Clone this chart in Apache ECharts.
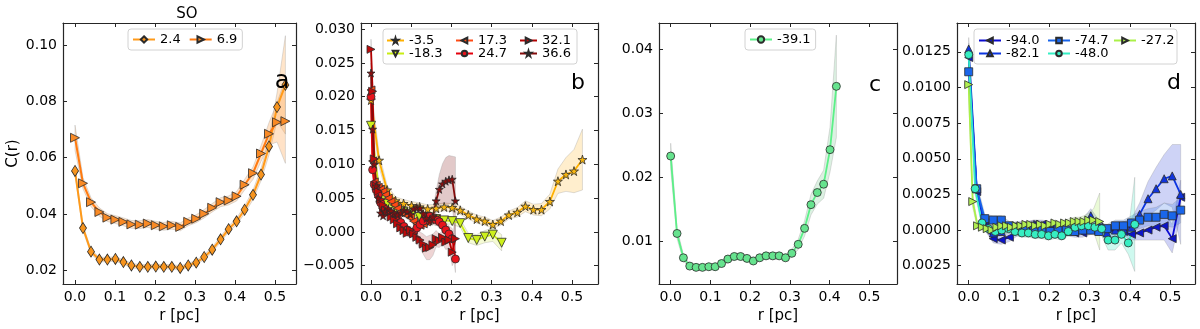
<!DOCTYPE html>
<html>
<head>
<meta charset="utf-8">
<script src="https://cdn.jsdelivr.net/npm/echarts@6/dist/echarts.min.js"></script>
<style>
  html, body { margin: 0; padding: 0; background: #fff; }
  #chart { width: 1200px; height: 329px; }
</style>
</head>
<body>
<div id="chart"></div>
<script>
/* ── ticks ── */
const X_TICKS = [0, 0.1, 0.2, 0.3, 0.4, 0.5];
const YT_A = [0.02, 0.04, 0.06, 0.08, 0.10];
const YT_B = [-0.005, 0, 0.005, 0.010, 0.015, 0.020, 0.025, 0.030];
const YT_C = [0.01, 0.02, 0.03, 0.04];
const YT_D = [-0.0025, 0, 0.0025, 0.0050, 0.0075, 0.0100, 0.0125];

/* ── radius grids (pc) ── */
const R_A = [0.000, 0.020, 0.040, 0.061, 0.081, 0.101, 0.121, 0.141, 0.162, 0.182, 0.202, 0.222, 0.242, 0.263,
  0.283, 0.303, 0.323, 0.343, 0.364, 0.384, 0.404, 0.424, 0.445, 0.465, 0.485, 0.505, 0.526];
const R_B183 = [0.000, 0.020, 0.040, 0.061, 0.081, 0.101, 0.121, 0.141, 0.162, 0.182, 0.202, 0.222, 0.242, 0.263,
  0.283, 0.303, 0.325];
const R_RED = [0.000, 0.004, 0.008, 0.013, 0.018, 0.024, 0.030, 0.036, 0.043, 0.050, 0.058, 0.066, 0.074, 0.082,
  0.090, 0.098, 0.106, 0.114, 0.122, 0.130, 0.138, 0.146, 0.154, 0.162, 0.170, 0.178, 0.186, 0.194, 0.202, 0.210];
const R_C = [0.000, 0.016, 0.032, 0.048, 0.064, 0.080, 0.096, 0.112, 0.128, 0.144, 0.160, 0.176, 0.192, 0.208,
  0.224, 0.240, 0.257, 0.273, 0.289, 0.305, 0.321, 0.337, 0.353, 0.369, 0.385, 0.401, 0.417];
const R_D48 = [0.000, 0.016, 0.033, 0.049, 0.066, 0.082, 0.099, 0.115, 0.132, 0.148, 0.165, 0.181, 0.198, 0.214,
  0.231, 0.247, 0.264, 0.280, 0.297, 0.313, 0.330, 0.346, 0.363, 0.379, 0.396, 0.412];
const R_D27 = [0.000, 0.010, 0.022, 0.034, 0.046, 0.058, 0.070, 0.082, 0.094, 0.106, 0.118, 0.130, 0.142, 0.154,
  0.166, 0.178, 0.190, 0.202, 0.214, 0.226, 0.238, 0.250, 0.262, 0.274, 0.286, 0.298, 0.310, 0.325];

/* ── panel a: SO ── */
const A_24 = [0.0553, 0.0350, 0.0266, 0.0238, 0.0238, 0.0240, 0.0229, 0.0217, 0.0212, 0.0212, 0.0213, 0.0212, 0.0212,
  0.0208, 0.0217, 0.0227, 0.0247, 0.0273, 0.0310, 0.0346, 0.0374, 0.0415, 0.0468, 0.0540, 0.0640, 0.0780, 0.0859];
const A_24_ERR = [0.0015, 0.0010, 0.0008, 0.0008, 0.0008, 0.0008, 0.0008, 0.0008, 0.0008, 0.0008, 0.0008, 0.0008, 0.0008,
  0.0008, 0.0008, 0.0008, 0.0009, 0.0010, 0.0010, 0.0011, 0.0012, 0.0014, 0.0017, 0.0022, 0.0030, 0.0050, 0.0175];
const A_69 = [0.0671, 0.0509, 0.0442, 0.0407, 0.0387, 0.0380, 0.0372, 0.0363, 0.0362, 0.0366, 0.0360, 0.0356, 0.0360,
  0.0354, 0.0372, 0.0383, 0.0401, 0.0422, 0.0442, 0.0448, 0.0463, 0.0504, 0.0545, 0.0615, 0.0685, 0.0726, 0.0730];
const A_69_ERR = [0.0045, 0.0020, 0.0016, 0.0015, 0.0014, 0.0014, 0.0014, 0.0014, 0.0014, 0.0014, 0.0014, 0.0014, 0.0014,
  0.0014, 0.0014, 0.0014, 0.0015, 0.0015, 0.0016, 0.0016, 0.0017, 0.0019, 0.0022, 0.0028, 0.0040, 0.0070, 0.0150];

/* ── panel b ── */
const B_35 = [0.0195, 0.0106, 0.0062, 0.0046, 0.0042, 0.0039, 0.0037, 0.0034, 0.0035, 0.0037, 0.0036, 0.0032, 0.0025,
  0.0019, 0.0016, 0.0011, 0.0016, 0.0025, 0.0029, 0.0038, 0.0033, 0.0033, 0.0045, 0.0075, 0.0085, 0.0090, 0.0107];
const B_35_ERR = [0.0020, 0.0010, 0.0007, 0.0006, 0.0006, 0.0006, 0.0006, 0.0006, 0.0006, 0.0006, 0.0006, 0.0006, 0.0006,
  0.0006, 0.0006, 0.0006, 0.0006, 0.0006, 0.0007, 0.0008, 0.0008, 0.0009, 0.0011, 0.0018, 0.0025, 0.0032, 0.0045];
const B_183 = [0.0157, 0.0062, 0.0042, 0.0035, 0.0030, 0.0026, 0.0022, 0.0022, 0.0019, 0.0017, 0.0016, 0.0013, -0.0009,
  -0.0012, -0.0007, -0.0004, -0.0016];
const B_183_ERR = [0.0015, 0.0008, 0.0006, 0.0005, 0.0005, 0.0005, 0.0005, 0.0005, 0.0005, 0.0005, 0.0005, 0.0006,
  0.0007, 0.0008, 0.0009, 0.0010, 0.0012];
const B_173 = [0.0210, 0.0105, 0.0074, 0.0069, 0.0066, 0.0063, 0.0060, 0.0055, 0.0050, 0.0045, 0.0040, 0.0035, 0.0030,
  0.0027, 0.0024, 0.0021, 0.0016, 0.0012, 0.0010, 0.0012, 0.0015, 0.0018, 0.0020, 0.0019];
const B_173_ERR = [0.0012, 0.0008, 0.0005, 0.0005, 0.0005, 0.0005, 0.0005, 0.0005, 0.0005, 0.0005, 0.0005, 0.0005,
  0.0005, 0.0005, 0.0005, 0.0005, 0.0005, 0.0005, 0.0006, 0.0006, 0.0007, 0.0008, 0.0009, 0.0010];
const B_247 = [0.0200, 0.0092, 0.0070, 0.0062, 0.0055, 0.0043, 0.0035, 0.0033, 0.0030, 0.0027, 0.0025, 0.0020, 0.0014,
  0.0008, 0.0003, -0.0001, 0.0000, 0.0006, 0.0011, 0.0016, 0.0022, 0.0023, 0.0020, 0.0018, 0.0015, 0.0010, 0.0003,
  -0.0003, -0.0010, -0.0040];
const B_247_ERR = [0.0015, 0.0008, 0.0006, 0.0005, 0.0005, 0.0005, 0.0005, 0.0005, 0.0005, 0.0005, 0.0005, 0.0005,
  0.0005, 0.0005, 0.0005, 0.0005, 0.0005, 0.0005, 0.0005, 0.0006, 0.0006, 0.0007, 0.0007, 0.0008, 0.0008, 0.0009,
  0.0010, 0.0012, 0.0015, 0.0020];
const B_321 = [0.0270, 0.0208, 0.0108, 0.0068, 0.0060, 0.0048, 0.0040, 0.0032, 0.0028, 0.0022, 0.0018, 0.0012, 0.0006,
  0.0002, -0.0002, 0.0003, -0.0003, -0.0008, -0.0012, -0.0018, -0.0024, -0.0023, -0.0019, -0.0010, -0.0013,
  -0.0008, -0.0015, -0.0012, -0.0030, -0.0010];
const B_321_ERR = [0.0015, 0.0010, 0.0006, 0.0005, 0.0005, 0.0005, 0.0005, 0.0005, 0.0005, 0.0005, 0.0005, 0.0005,
  0.0005, 0.0005, 0.0005, 0.0006, 0.0007, 0.0009, 0.0012, 0.0015, 0.0017, 0.0018, 0.0016, 0.0012, 0.0010, 0.0010,
  0.0011, 0.0012, 0.0020, 0.0030];
const B_366 = [0.0235, 0.0152, 0.0100, 0.0068, 0.0050, 0.0028, 0.0024, 0.0030, 0.0034, 0.0031, 0.0027, 0.0025, 0.0028,
  0.0032, 0.0030, 0.0026, 0.0034, 0.0036, 0.0035, 0.0027, 0.0020, 0.0016, 0.0022, 0.0046, 0.0063, 0.0071, 0.0075,
  0.0077, 0.0078, 0.0046];
const B_366_ERR = [0.0015, 0.0010, 0.0006, 0.0005, 0.0005, 0.0005, 0.0005, 0.0005, 0.0005, 0.0005, 0.0005, 0.0005,
  0.0005, 0.0005, 0.0005, 0.0005, 0.0005, 0.0005, 0.0005, 0.0005, 0.0005, 0.0006, 0.0008, 0.0015, 0.0022, 0.0030,
  0.0035, 0.0036, 0.0034, 0.0065];

/* ── panel c ── */
const C_391 = [0.0233, 0.0112, 0.0074, 0.0061, 0.0059, 0.0059, 0.0060, 0.0060, 0.0065, 0.0072, 0.0076, 0.0076, 0.0073,
  0.0069, 0.0074, 0.0077, 0.0077, 0.0077, 0.0074, 0.0081, 0.0095, 0.0120, 0.0157, 0.0176, 0.0189, 0.0243, 0.0342];
const C_391_ERR = [0.0020, 0.0008, 0.0005, 0.0004, 0.0004, 0.0004, 0.0004, 0.0004, 0.0005, 0.0005, 0.0005, 0.0005,
  0.0005, 0.0005, 0.0005, 0.0005, 0.0005, 0.0005, 0.0005, 0.0006, 0.0008, 0.0012, 0.0016, 0.0018, 0.0022, 0.0035,
  0.0080];

/* ── panel d ── */
const D_940 = [0.0121, 0.0027, 0.0003, -0.0006, -0.0007, -0.0005, -0.0001, 0.0002, 0.0004, 0.0004, 0.0003, 0.0001,
  -0.0001, -0.0002, -0.0002, 0.0000, 0.0002, 0.0001, 0.0000, -0.0001, -0.0003, -0.0002, 0.0000, 0.0002, 0.0003,
  -0.0006, 0.0023];
const D_940_ERR = [0.0008, 0.0004, 0.0003, 0.0003, 0.0003, 0.0003, 0.0003, 0.0003, 0.0003, 0.0003, 0.0003, 0.0003,
  0.0003, 0.0003, 0.0003, 0.0003, 0.0003, 0.0003, 0.0003, 0.0003, 0.0004, 0.0005, 0.0007, 0.0009, 0.0010, 0.0010,
  0.0012];
const D_821 = [0.0127, 0.0029, 0.0004, -0.0002, -0.0001, 0.0002, 0.0003, 0.0003, 0.0004, 0.0003, 0.0002, 0.0001,
  -0.0001, 0.0001, 0.0004, 0.0010, 0.0003, -0.0002, 0.0000, 0.0001, 0.0002, 0.0011, 0.0022, 0.0029, 0.0036, 0.0038,
  0.0025];
const D_821_ERR = [0.0008, 0.0004, 0.0003, 0.0003, 0.0003, 0.0003, 0.0003, 0.0003, 0.0003, 0.0003, 0.0003, 0.0003,
  0.0003, 0.0003, 0.0004, 0.0005, 0.0004, 0.0004, 0.0004, 0.0005, 0.0006, 0.0008, 0.0012, 0.0015, 0.0017, 0.0022,
  0.0035];
const D_747 = [0.0111, 0.0029, 0.0008, 0.0007, 0.0007, 0.0003, 0.0002, 0.0001, 0.0001, 0.0000, -0.0001, 0.0001,
  0.0000, -0.0001, 0.0000, 0.0000, -0.0001, 0.0001, 0.0003, 0.0003, 0.0005, 0.0007, 0.0009, 0.0009, 0.0011, 0.0010,
  0.0014];
const D_747_ERR = [0.0008, 0.0004, 0.0003, 0.0003, 0.0003, 0.0003, 0.0003, 0.0003, 0.0003, 0.0003, 0.0003, 0.0003,
  0.0003, 0.0003, 0.0003, 0.0003, 0.0003, 0.0003, 0.0004, 0.0004, 0.0005, 0.0006, 0.0006, 0.0007, 0.0008, 0.0008,
  0.0009];
const D_480 = [0.0123, 0.0029, 0.0005, 0.0001, -0.0001, 0.0000, 0.0001, -0.0001, -0.0002, -0.0002, -0.0003, -0.0003,
  -0.0004, -0.0003, -0.0004, -0.0001, 0.0002, 0.0003, 0.0003, 0.0002, 0.0001, -0.0007, -0.0007, -0.0003, -0.0009,
  0.0004];
const D_480_ERR = [0.0008, 0.0004, 0.0003, 0.0003, 0.0003, 0.0003, 0.0003, 0.0003, 0.0003, 0.0003, 0.0003, 0.0003,
  0.0003, 0.0003, 0.0003, 0.0003, 0.0003, 0.0003, 0.0003, 0.0004, 0.0005, 0.0007, 0.0007, 0.0006, 0.0008, 0.0033];
const D_272 = [0.0102, 0.0020, 0.0003, 0.0002, 0.0001, 0.0000, 0.0002, 0.0003, 0.0003, 0.0002, 0.0003, 0.0003, 0.0004,
  0.0004, 0.0003, 0.0004, 0.0003, 0.0004, 0.0005, 0.0004, 0.0005, 0.0005, 0.0006, 0.0006, 0.0006, 0.0007, 0.0007,
  0.0006];
const D_272_ERR = [0.0008, 0.0004, 0.0002, 0.0002, 0.0002, 0.0002, 0.0002, 0.0002, 0.0002, 0.0002, 0.0002, 0.0002,
  0.0002, 0.0002, 0.0002, 0.0002, 0.0002, 0.0002, 0.0002, 0.0002, 0.0002, 0.0003, 0.0003, 0.0003, 0.0004, 0.0005,
  0.0008, 0.0020];

/* ── style ── */
const FONT = "DejaVu Sans";
const SPINE = "#262626";
const EDGE = "#2b2b2b";
const STAR = "path://M50,0 L61,35 L98,35 L68,57 L79,91 L50,70 L21,91 L32,57 L2,35 L39,35 Z";

const chart = echarts.init(document.getElementById("chart"), null, { renderer: "canvas" });

const GRIDS = [
  { left: 63, top: 23, width: 233, height: 263, xMin: -0.030, xMax: 0.5525, yMin: 0.0151, yMax: 0.1079 },
  { left: 361, top: 23, width: 237, height: 263, xMin: -0.0249, xMax: 0.5647, yMin: -0.0077, yMax: 0.0309 },
  { left: 659, top: 23, width: 238, height: 263, xMin: -0.0294, xMax: 0.5696, yMin: 0.0033, yMax: 0.0441 },
  { left: 957, top: 23, width: 238, height: 263, xMin: -0.029, xMax: 0.5615, yMin: -0.00378, yMax: 0.01452 },
];

const clean = (v) => (Math.abs(v) < 1e-12 ? 0 : v);
const Y_TICKS = [YT_A, YT_B, YT_C, YT_D];
const Y_FMT = [
  (v) => clean(v).toFixed(2),
  (v) => clean(v).toFixed(3).replace("-", "\u2212"),
  (v) => clean(v).toFixed(2),
  (v) => Math.abs(clean(v)).toFixed(4), // minus sign of the lowest label is cut off in the figure
];

const xAxes = [];
const yAxes = [];
GRIDS.forEach((g, gi) => {
  const line = { show: true, onZero: false, lineStyle: { color: SPINE, width: 1.2 } };
  const tick = (vals) => ({ show: true, inside: true, length: 4, customValues: vals, lineStyle: { color: SPINE, width: 1 } });
  xAxes.push({
    type: "value", gridIndex: gi, position: "bottom", min: g.xMin, max: g.xMax,
    axisLine: line, axisTick: tick(X_TICKS), splitLine: { show: false },
    axisLabel: { customValues: X_TICKS, formatter: (v) => clean(v).toFixed(1), color: "#000", fontFamily: FONT, fontSize: 14, margin: 6 },
    name: "r [pc]", nameLocation: "middle", nameGap: 25,
    nameTextStyle: { color: "#000", fontFamily: FONT, fontSize: 15 },
  });
  xAxes.push({
    type: "value", gridIndex: gi, position: "top", min: g.xMin, max: g.xMax,
    axisLine: line, axisTick: tick(X_TICKS), axisLabel: { show: false }, splitLine: { show: false },
  });
  yAxes.push({
    type: "value", gridIndex: gi, position: "left", min: g.yMin, max: g.yMax,
    axisLine: line, axisTick: tick(Y_TICKS[gi]), splitLine: { show: false },
    axisLabel: { customValues: Y_TICKS[gi], formatter: Y_FMT[gi], color: "#000", fontFamily: FONT, fontSize: 14, margin: 6 },
    name: gi === 0 ? "C(r)" : "", nameLocation: "middle", nameGap: 42,
    nameTextStyle: { color: "#000", fontFamily: FONT, fontSize: 15 },
  });
  yAxes.push({
    type: "value", gridIndex: gi, position: "right", min: g.yMin, max: g.yMax,
    axisLine: line, axisTick: tick(Y_TICKS[gi]), axisLabel: { show: false }, splitLine: { show: false },
  });
});

/* shaded uncertainty band, drawn once as one polygon through the axis scales */
function band(name, gi, r, v, err, fill) {
  return {
    name: name + " band", type: "custom", xAxisIndex: gi * 2, yAxisIndex: gi * 2, silent: true, z: 1,
    data: r.map((x, i) => [x, v[i] - err[i], v[i] + err[i]]),
    encode: { x: 0, y: [1, 2] },
    renderItem(params, api) {
      if (params.dataIndex !== 0) return null;
      const up = r.map((x, i) => api.coord([x, v[i] + err[i]]));
      const dn = r.map((x, i) => api.coord([x, v[i] - err[i]])).reverse();
      return {
        type: "polygon", shape: { points: up.concat(dn) },
        style: { fill: fill, stroke: "rgba(140,140,140,0.28)", lineWidth: 1 },
      };
    },
  };
}

function curve(name, gi, r, v, color, fill, symbol, size, rotate, width) {
  return {
    name: name, type: "line", xAxisIndex: gi * 2, yAxisIndex: gi * 2, z: 3,
    data: r.map((x, i) => [x, v[i]]),
    symbol: symbol, symbolSize: size, symbolRotate: rotate || 0, showSymbol: true,
    lineStyle: { color: color, width: width || 1.8 },
    itemStyle: { color: fill, borderColor: EDGE, borderWidth: 0.8 },
    emphasis: { disabled: true },
  };
}

const series = [
  // a
  band("2.4", 0, R_A, A_24, A_24_ERR, "rgba(255,170,80,0.3)"),
  band("6.9", 0, R_A, A_69, A_69_ERR, "rgba(255,160,70,0.3)"),
  curve("2.4", 0, R_A, A_24, "#ff9a1a", "#f7941d", "diamond", [7, 11], 0, 2),
  curve("6.9", 0, R_A, A_69, "#ff7a10", "#f98a25", "triangle", 9, -90, 2),
  // b
  band("-3.5", 1, R_A, B_35, B_35_ERR, "rgba(255,200,90,0.3)"),
  band("-18.3", 1, R_B183, B_183, B_183_ERR, "rgba(215,240,80,0.25)"),
  band("17.3", 1, R_RED, B_173, B_173_ERR, "rgba(230,90,60,0.2)"),
  band("24.7", 1, R_RED, B_247, B_247_ERR, "rgba(210,60,60,0.2)"),
  band("32.1", 1, R_RED, B_321, B_321_ERR, "rgba(170,40,40,0.2)"),
  band("36.6", 1, R_RED, B_366, B_366_ERR, "rgba(140,40,40,0.25)"),
  curve("-3.5", 1, R_A, B_35, "#ffb000", "#f6b40e", STAR, 9, 0, 1.8),
  curve("-18.3", 1, R_B183, B_183, "#c8ec12", "#cdf01a", "triangle", 9, 180, 1.8),
  curve("17.3", 1, R_RED, B_173, "#ff4a14", "#ff4a14", "triangle", 8, 90, 1.8),
  curve("24.7", 1, R_RED, B_247, "#e4000c", "#e8141c", "circle", 8, 0, 1.8),
  curve("32.1", 1, R_RED, B_321, "#b30000", "#bd0a0a", "triangle", 8, -90, 1.8),
  curve("36.6", 1, R_RED, B_366, "#840b0b", "#8a0e0e", STAR, 8, 0, 1.8),
  // c
  band("-39.1", 2, R_C, C_391, C_391_ERR, "rgba(140,210,160,0.3)"),
  curve("-39.1", 2, R_C, C_391, "#5cf088", "#66e38e", "circle", 8, 0, 1.8),
  // d
  band("-94.0", 3, R_A, D_940, D_940_ERR, "rgba(60,70,220,0.25)"),
  band("-82.1", 3, R_A, D_821, D_821_ERR, "rgba(60,80,220,0.25)"),
  band("-74.7", 3, R_A, D_747, D_747_ERR, "rgba(60,120,230,0.25)"),
  band("-48.0", 3, R_D48, D_480, D_480_ERR, "rgba(60,230,190,0.25)"),
  band("-27.2", 3, R_D27, D_272, D_272_ERR, "rgba(170,235,90,0.25)"),
  curve("-94.0", 3, R_A, D_940, "#0a0ad2", "#0c14c8", "triangle", 8, 90, 1.8),
  curve("-82.1", 3, R_A, D_821, "#0b34e0", "#1034dd", "triangle", 8, 0, 1.8),
  curve("-74.7", 3, R_A, D_747, "#1864ea", "#1a66ea", "rect", 8, 0, 1.8),
  curve("-48.0", 3, R_D48, D_480, "#34efc4", "#36eec2", "circle", 8, 0, 1.8),
  curve("-27.2", 3, R_D27, D_272, "#aaf048", "#b2f052", "triangle", 8, -90, 1.8),
];

const legendText = { color: "#000", fontFamily: FONT, fontSize: 13 };
const frameLegend = (data, left, top, iw) => ({
  data, left, top, orient: "horizontal", itemWidth: iw, itemHeight: 8, itemGap: 8,
  textStyle: legendText, backgroundColor: "rgba(255,255,255,0.85)", borderColor: "#d2d2d2",
  borderWidth: 1, borderRadius: 3, padding: [4, 5, 4, 4], selectedMode: false,
});
const colLegend = (data, left, top, iw) => ({
  data, left, top, orient: "vertical", itemWidth: iw, itemHeight: 7, itemGap: 0,
  textStyle: legendText, padding: 0, selectedMode: false,
});

const option = {
  animation: false,
  textStyle: { fontFamily: FONT },
  title: { text: "SO", left: 182, top: 2, textAlign: "center", textStyle: { color: "#000", fontFamily: FONT, fontSize: 15, fontWeight: "normal" } },
  grid: GRIDS.map((g) => ({ left: g.left, top: g.top, width: g.width, height: g.height })),
  xAxis: xAxes,
  yAxis: yAxes,
  legend: [
    frameLegend(["2.4", "6.9"], 128, 29, 22),
    colLegend(["-3.5", "-18.3"], 386, 34, 17),
    colLegend(["17.3", "24.7"], 455, 34, 17),
    colLegend(["32.1", "36.6"], 519, 34, 17),
    frameLegend(["-39.1"], 745, 29, 22),
    colLegend(["-94.0", "-82.1"], 978, 34, 22),
    colLegend(["-74.7", "-48.0"], 1047, 34, 22),
    colLegend(["-27.2"], 1113, 34, 22),
  ],
  graphic: [
    { type: "rect", z: 3, shape: { x: 383, y: 29, width: 194, height: 35, r: 3 },
      style: { fill: "rgba(255,255,255,0.85)", stroke: "#d2d2d2", lineWidth: 1 } },
    { type: "rect", z: 3, shape: { x: 974, y: 29, width: 203, height: 35, r: 3 },
      style: { fill: "rgba(255,255,255,0.85)", stroke: "#d2d2d2", lineWidth: 1 } },
    { type: "text", z: 5, x: 282, y: 82, style: { text: "a", fontFamily: FONT, fontSize: 24, fill: "#000", align: "center", verticalAlign: "middle" } },
    { type: "text", z: 5, x: 578, y: 83, style: { text: "b", fontFamily: FONT, fontSize: 22, fill: "#000", align: "center", verticalAlign: "middle" } },
    { type: "text", z: 5, x: 875, y: 85, style: { text: "c", fontFamily: FONT, fontSize: 22, fill: "#000", align: "center", verticalAlign: "middle" } },
    { type: "text", z: 5, x: 1174, y: 83, style: { text: "d", fontFamily: FONT, fontSize: 22, fill: "#000", align: "center", verticalAlign: "middle" } },
  ],
  series: series,
};

chart.setOption(option);
</script>
</body>
</html>
